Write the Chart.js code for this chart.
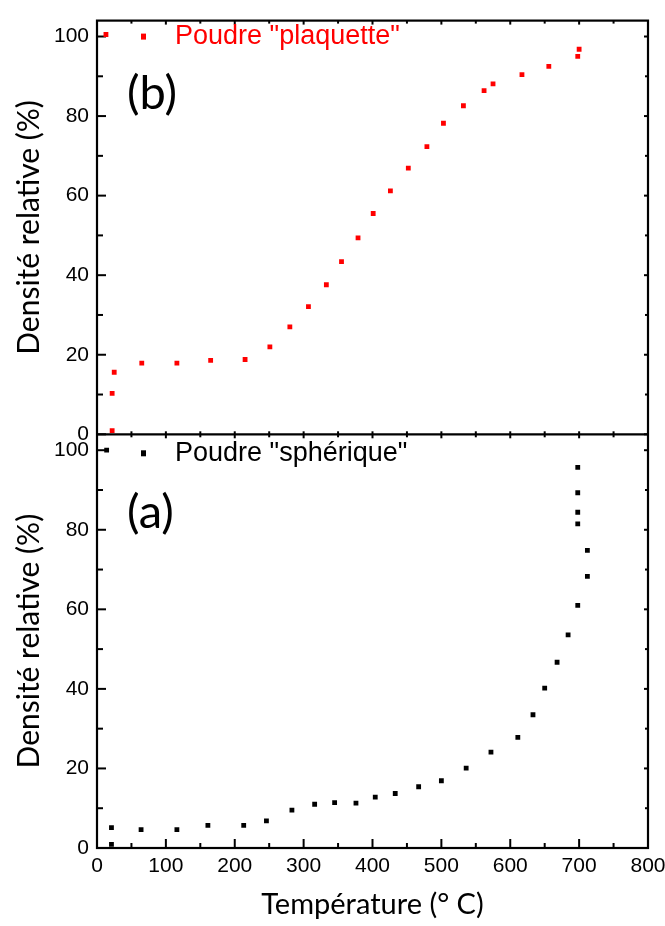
<!DOCTYPE html>
<html>
<head>
<meta charset="utf-8">
<script src="https://cdn.jsdelivr.net/npm/chart.js@4.4.1/dist/chart.umd.min.js"></script>
<style>
  html, body { margin: 0; padding: 0; background: #fff; }
</style>
</head>
<body>
<canvas id="densiteChart" width="665" height="926"></canvas>
<script>
// Données
const tempPlaquette = [13, 22, 22, 25, 65, 116, 165, 215, 251, 280, 307, 333, 355, 379, 401, 426, 452, 479, 503, 532, 562, 575, 617, 656, 698, 700];
const densPlaquette = [100.5, 0.9, 10.3, 15.6, 17.9, 17.9, 18.6, 18.8, 22.0, 27.0, 32.1, 37.6, 43.4, 49.4, 55.5, 61.2, 66.9, 72.3, 78.2, 82.6, 86.4, 88.1, 90.4, 92.5, 95.0, 96.8];

const tempSpherique = [14, 21, 21, 64, 116, 161, 213, 246, 283, 316, 345, 376, 404, 433, 467, 500, 536, 572, 611, 633, 650, 668, 684, 698, 712, 712, 698, 698, 698, 698];
const densSpherique = [100, 0.9, 5.1, 4.6, 4.6, 5.7, 5.7, 6.8, 9.5, 11.0, 11.4, 11.3, 12.8, 13.7, 15.4, 16.9, 20.1, 24.1, 27.8, 33.5, 40.2, 46.7, 53.6, 61.0, 68.3, 74.8, 81.5, 84.4, 89.3, 95.7];

const xTicks = [0, 100, 200, 300, 400, 500, 600, 700, 800];
const yTicks = [0, 20, 40, 60, 80, 100];
const seriesNames = ['Poudre "plaquette"', 'Poudre "sphérique"'];
const panelLabels = ['(b)', '(a)'];

const toPoints = (xs, ys) => xs.map((x, i) => ({ x: x, y: ys[i] }));

// axe y d'un panneau (les deux sont empilés)
function axeY(poids) {
  return {
    type: 'linear',
    position: 'left',
    stack: 'panneaux',
    stackWeight: 1,
    weight: poids,
    min: 0,
    max: 104,
    afterBuildTicks: s => { s.ticks = yTicks.map(v => ({ value: v })); },
    afterFit: s => { s.width = 97; },
    grid: { display: false, drawTicks: false },
    border: { display: false },
    ticks: { padding: 8, color: '#000', font: { family: 'Liberation Sans', size: 21 } },
    title: {
      display: true,
      text: 'Densité relative (%)',
      color: '#000',
      font: { family: 'Lato', size: 30 },
      padding: { top: 11, bottom: 0 }
    }
  };
}

// cadre + graduations vers l'intérieur
const cadrePlugin = {
  id: 'cadre',
  beforeDatasetsDraw(chart) {
    const { ctx, chartArea: a, scales } = chart;
    const trait = (x1, y1, x2, y2) => { ctx.beginPath(); ctx.moveTo(x1, y1); ctx.lineTo(x2, y2); ctx.stroke(); };
    ctx.save();
    ctx.strokeStyle = '#000';
    ctx.lineWidth = 2;
    [scales.yB, scales.yA].forEach(y => {
      for (let v = 0; v <= 100; v += 10) {
        const py = y.getPixelForValue(v);
        const major = v % 20 === 0;
        trait(a.left, py, a.left + (major ? 9 : 6), py);
        trait(a.right, py, a.right - (major ? 4 : 3), py);
      }
      for (let v = 0; v <= 800; v += 50) {
        const px = scales.x.getPixelForValue(v);
        const major = v % 100 === 0;
        const bas = y === scales.yA ? (major ? 9 : 5) : 3;
        trait(px, y.bottom, px, y.bottom - bas);
        trait(px, y.top, px, y.top + (major ? 4 : 3));
      }
    });
    ctx.lineWidth = 2.2;
    ctx.strokeRect(a.left, a.top, a.width, a.height);
    trait(a.left, scales.yB.bottom, a.right, scales.yB.bottom);
    ctx.restore();
  },
  afterDraw(chart) {
    const { ctx, scales } = chart;
    ctx.save();
    ctx.textBaseline = 'middle';
    const panneaux = [
      { y: scales.yB, couleur: '#ff0000', dyLegende: 16, dyLettre: 73 },
      { y: scales.yA, couleur: '#000000', dyLegende: 19, dyLettre: 79 }
    ];
    panneaux.forEach((p, i) => {
      const top = p.y.top;
      // légende
      ctx.fillStyle = p.couleur;
      ctx.fillRect(141, top + p.dyLegende - 3, 5, 6);
      ctx.font = '27px "Liberation Sans"';
      ctx.fillText(seriesNames[i], 175, top + p.dyLegende);
      // étiquette du panneau
      ctx.fillStyle = '#000';
      ctx.font = '47px Lato';
      ctx.fillText(panelLabels[i], 127, top + p.dyLettre);
    });
    ctx.restore();
  }
};

const ctx = document.getElementById('densiteChart').getContext('2d');
new Chart(ctx, {
  type: 'scatter',
  data: {
    datasets: [{
      label: seriesNames[0],
      data: toPoints(tempPlaquette, densPlaquette),
      yAxisID: 'yB',
      pointStyle: 'rect',
      pointRadius: 3.4,
      borderWidth: 0,
      backgroundColor: '#ff0000'
    }, {
      label: seriesNames[1],
      data: toPoints(tempSpherique, densSpherique),
      yAxisID: 'yA',
      pointStyle: 'rect',
      pointRadius: 3.4,
      borderWidth: 0,
      backgroundColor: '#000000'
    }]
  },
  options: {
    responsive: false,
    animation: false,
    events: [],
    layout: { padding: { top: 17, right: 17, bottom: 0, left: 0 } },
    plugins: { legend: { display: false }, tooltip: { enabled: false } },
    scales: {
      x: {
        type: 'linear',
        min: 0,
        max: 800,
        afterBuildTicks: s => { s.ticks = xTicks.map(v => ({ value: v })); },
        afterFit: s => { s.height = 78; s.paddingRight = 0; s.paddingLeft = 0; },
        grid: { display: false, drawTicks: false },
        border: { display: false },
        ticks: { padding: 6, color: '#000', maxRotation: 0, autoSkip: false, font: { family: 'Liberation Sans', size: 21 } },
        title: {
          display: true,
          text: 'Température (° C)',
          color: '#000',
          font: { family: 'Lato', size: 29 },
          padding: { top: 0, bottom: 4 }
        }
      },
      yB: axeY(2),
      yA: axeY(1)
    }
  },
  plugins: [cadrePlugin]
});
</script>
</body>
</html>
